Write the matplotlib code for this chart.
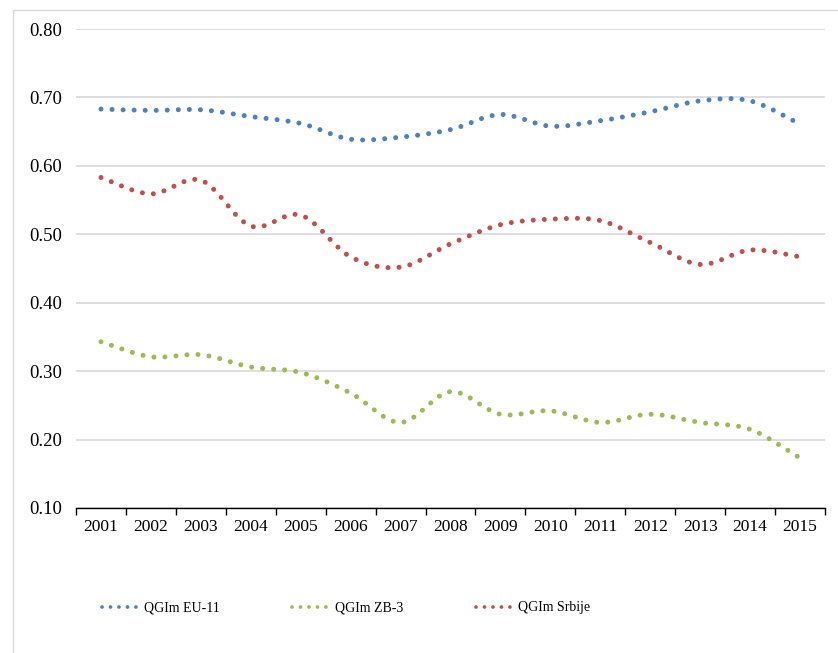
import matplotlib
matplotlib.use("Agg")
import matplotlib.pyplot as plt
import numpy as np
from matplotlib.path import Path
from matplotlib.patches import PathPatch, Rectangle
from matplotlib.lines import Line2D

plt.rcParams['font.family'] = ['Liberation Serif', 'DejaVu Serif']

years = ['2001', '2002', '2003', '2004', '2005', '2006', '2007', '2008',
         '2009', '2010', '2011', '2012', '2013', '2014', '2015']
eu11 = [0.683, 0.681, 0.682, 0.672, 0.662, 0.639, 0.642, 0.653,
        0.675, 0.658, 0.666, 0.679, 0.695, 0.695, 0.661]
zb3 = [0.343, 0.321, 0.324, 0.306, 0.298, 0.268, 0.225, 0.270,
       0.237, 0.242, 0.225, 0.237, 0.225, 0.215, 0.173]
srbije = [0.583, 0.559, 0.579, 0.512, 0.528, 0.467, 0.452, 0.486,
          0.514, 0.522, 0.520, 0.488, 0.456, 0.477, 0.467]

series = [
    ('QGIm EU-11', eu11, '#4F81BD'),
    ('QGIm ZB-3', zb3, '#9BBB59'),
    ('QGIm Srbije', srbije, '#C0504D'),
]


def smooth_path(xs, ys):
    # Bezier segments with Catmull-Rom style control points
    pts = np.column_stack([xs, ys]).astype(float)
    n = len(pts)
    verts = [pts[0]]
    codes = [Path.MOVETO]
    for i in range(n - 1):
        p0 = pts[i - 1] if i > 0 else pts[i]
        p1 = pts[i]
        p2 = pts[i + 1]
        p3 = pts[i + 2] if i + 2 < n else pts[i + 1]
        c1 = p1 + (p2 - p0) / 6.0
        c2 = p2 - (p3 - p1) / 6.0
        verts += [c1, c2, p2]
        codes += [Path.CURVE4] * 3
    return Path(verts, codes)


fig = plt.figure(figsize=(8.38, 6.53), dpi=100)
ax = fig.add_axes([76 / 838, 1 - 508 / 653, (825 - 76) / 838, (508 - 29) / 653])

# light frame around the chart
fig.patches.append(Rectangle((13 / 838, -0.5), 2.0, 1.5 - 10 / 653,
                             transform=fig.transFigure, fill=False,
                             edgecolor='#d9d9d9', linewidth=1.0))

x = np.arange(len(years))
handles = []
for name, vals, col in series:
    patch = PathPatch(smooth_path(x, vals), fill=False, edgecolor=col,
                      linewidth=3.6, linestyle=(0, (0.01, 2.2)),
                      capstyle='round', zorder=3)
    ax.add_patch(patch)
    handles.append(Line2D([], [], color=col, linewidth=2.7,
                          linestyle=(0, (0.01, 2.25)),
                          dash_capstyle='round', label=name))

ax.set_xlim(-0.5, len(years) - 0.5)
ax.set_ylim(0.10, 0.80)
yt = np.arange(0.10, 0.801, 0.10)
ax.set_yticks(yt)
ax.set_yticklabels(['%.2f' % v for v in yt])
ax.yaxis.grid(True, color='#d9d9d9', linewidth=1.2)
ax.set_axisbelow(True)

ax.set_xticks(np.arange(-0.5, len(years), 1.0))
ax.set_xticklabels([])
ax.set_xticks(x, minor=True)
ax.set_xticklabels(years, minor=True)
ax.tick_params(axis='x', which='major', length=5, width=1, color='black', direction='out')
ax.tick_params(axis='x', which='minor', length=0, pad=8, labelsize=12.5)
ax.tick_params(axis='y', length=0, pad=10, labelsize=13.5)

for s in ['left', 'right', 'top']:
    ax.spines[s].set_visible(False)
ax.spines['bottom'].set_linewidth(1.0)
ax.spines['bottom'].set_color('black')

fig.legend(handles=handles, loc='center', bbox_to_anchor=(346 / 838, 1 - 608 / 653),
           ncol=3, frameon=False, fontsize=10, handlelength=2.5,
           handletextpad=0.58, columnspacing=5.2)

fig.savefig('out.png', dpi=100)
